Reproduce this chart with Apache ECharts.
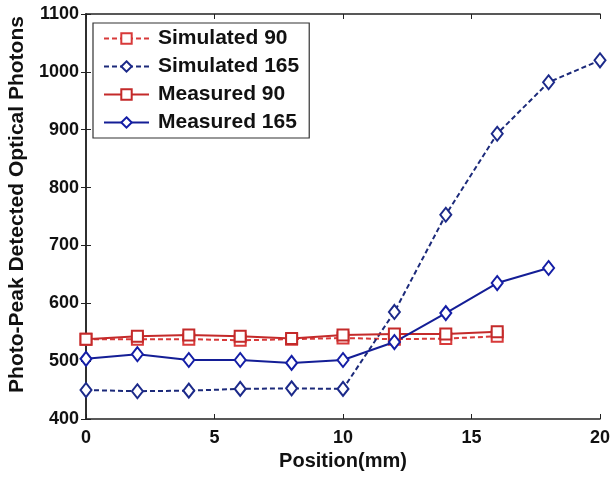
<!DOCTYPE html>
<html>
<head>
<meta charset="utf-8">
<script src="https://cdn.jsdelivr.net/npm/echarts@6/dist/echarts.min.js"></script>
<style>html,body{margin:0;padding:0;background:#fff}#c{width:615px;height:477px}</style>
</head>
<body>
<div id="c"></div>
<script>
const positions = [0, 2, 4, 6, 8, 10, 12, 14, 16, 18, 20];
const simulated90 = [538, 538, 538, 536, 538, 540, 538, 539, 543];
const simulated165 = [450, 448, 449, 452, 453, 452, 585, 753, 893, 982, 1020];
const measured90 = [538, 543, 545, 543, 539, 545, 547, 547, 551];
const measured165 = [504, 512, 502, 502, 497, 502, 533, 583, 635, 661];
const xTicks = [0, 5, 10, 15, 20];
const yTicks = [400, 500, 600, 700, 800, 900, 1000, 1100];

function pairs(vals){ return vals.map((v,i)=>[positions[i], v]); }

const font = 'Liberation Sans, Arial, sans-serif';
const chart = echarts.init(document.getElementById('c'), null, {renderer:'canvas'});
const axisLine = {show:true, lineStyle:{color:'#222', width:1.5}};
const tick = {inside:true, length:5, lineStyle:{color:'#222'}};
chart.setOption({
  animation:false,
  backgroundColor:'#fff',
  grid:{left:86, top:14, right:15, bottom:58, containLabel:false, outerBoundsMode:'none'},
  legend:{
    left:93, top:23, orient:'vertical',
    padding:[5,10,5,10], itemGap:7, itemWidth:45, itemHeight:13,
    backgroundColor:'#fff', borderColor:'#333', borderWidth:1.2,
    textStyle:{fontFamily:font, fontWeight:'bold', fontSize:21, color:'#111', padding:[0,0,0,4]},
    data:['Simulated 90','Simulated 165','Measured 90','Measured 165']
  },
  xAxis:[{
    type:'value', min:xTicks[0], max:xTicks[xTicks.length-1], interval:5,
    name:'Position(mm)', nameLocation:'middle', nameGap:32,
    nameTextStyle:{fontFamily:font, fontWeight:'bold', fontSize:20, color:'#111'},
    axisLine:axisLine, axisTick:tick,
    axisLabel:{fontFamily:font, fontWeight:'bold', fontSize:18, color:'#111', margin:10},
    splitLine:{show:false}
  },{
    type:'value', position:'top', min:xTicks[0], max:xTicks[xTicks.length-1], interval:5,
    axisLine:axisLine, axisTick:tick, axisLabel:{show:false}, splitLine:{show:false}
  }],
  yAxis:[{
    type:'value', min:yTicks[0], max:yTicks[yTicks.length-1], interval:100,
    name:'Photo-Peak Detected Optical Photons', nameLocation:'middle', nameGap:58,
    nameTextStyle:{fontFamily:font, fontWeight:'bold', fontSize:21, color:'#111', padding:[0,0,0,24]},
    axisLine:axisLine, axisTick:tick,
    axisLabel:{fontFamily:font, fontWeight:'bold', fontSize:18, color:'#111', margin:7,
               formatter:(v)=>String(v)},
    splitLine:{show:false}
  },{
    type:'value', position:'right', min:yTicks[0], max:yTicks[yTicks.length-1], interval:100,
    axisLine:axisLine, axisTick:tick, axisLabel:{show:false}, splitLine:{show:false}
  }],
  series:[
    {name:'Simulated 90', type:'line', data:pairs(simulated90), symbol:'emptyRect', symbolSize:11,
     lineStyle:{color:'#d83a3a', width:2, type:[5,3]}, itemStyle:{color:'#d83a3a', borderWidth:2}, z:3},
    {name:'Simulated 165', type:'line', data:pairs(simulated165), symbol:'emptyDiamond', symbolSize:[11,14],
     lineStyle:{color:'#1c2a7a', width:2, type:[5,3]}, itemStyle:{color:'#1c2a8a', borderWidth:2}, z:3},
    {name:'Measured 90', type:'line', data:pairs(measured90), symbol:'emptyRect', symbolSize:11,
     lineStyle:{color:'#c42a2a', width:2}, itemStyle:{color:'#c42a2a', borderWidth:2}, z:4},
    {name:'Measured 165', type:'line', data:pairs(measured165), symbol:'emptyDiamond', symbolSize:[11,14],
     lineStyle:{color:'#141e96', width:2}, itemStyle:{color:'#141ea6', borderWidth:2}, z:4}
  ]
});
</script>
</body>
</html>
